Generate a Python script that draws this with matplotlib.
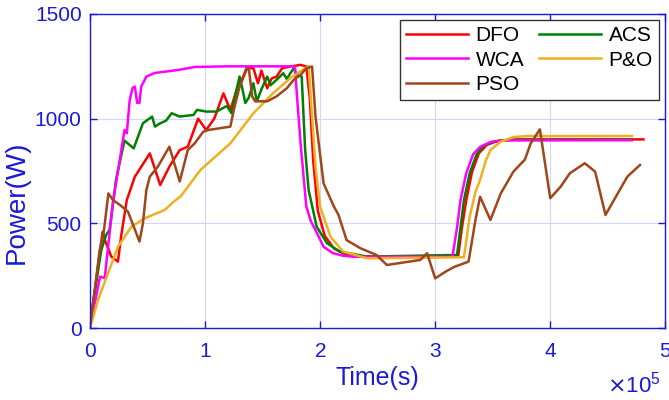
import numpy as np
import matplotlib.pyplot as plt

plt.rcParams['font.family'] = ['Liberation Sans', 'DejaVu Sans']

# time in units of 1e5 s, power in W
t_dfo = [0, 0.06, 0.11, 0.13, 0.185, 0.243, 0.27, 0.32, 0.39, 0.52, 0.61, 0.69, 0.78, 0.85,
         0.94, 1.01, 1.08, 1.16, 1.22, 1.275, 1.32, 1.36, 1.42, 1.46, 1.49, 1.54, 1.58, 1.62,
         1.67, 1.74, 1.83, 1.88, 1.91, 1.94, 1.98, 2.04, 2.12, 2.22, 2.35, 2.7, 3.2, 3.23,
         3.27, 3.32, 3.38, 3.45, 3.55, 3.7, 4.81]
p_dfo = [0, 250, 460, 420, 341, 317, 436, 611, 723, 834, 683, 771, 850, 866,
         1000, 946, 1000, 1121, 1042, 1137, 1185, 1241, 1241, 1169, 1230, 1145, 1193, 1200,
         1241, 1249, 1257, 1249, 1100, 800, 560, 440, 380, 352, 342, 342, 342, 470,
         611, 745, 835, 875, 895, 901, 901]

t_acs = [0, 0.026, 0.098, 0.14, 0.17, 0.226, 0.27, 0.30, 0.38, 0.46, 0.54, 0.565, 0.61, 0.66,
         0.71, 0.78, 0.90, 0.93, 1.01, 1.10, 1.19, 1.23, 1.26, 1.30, 1.32, 1.35, 1.38, 1.42,
         1.45, 1.49, 1.54, 1.57, 1.62, 1.68, 1.71, 1.77, 1.80, 1.84, 1.87, 1.90, 1.97, 2.06,
         2.17, 2.41, 2.70, 3.19, 3.22, 3.25, 3.30, 3.36, 3.42, 3.50, 3.65, 4.71]
p_acs = [0, 119, 372, 444, 469, 707, 820, 895, 858, 978, 1010, 962, 978, 990,
         1026, 1010, 1018, 1042, 1034, 1034, 1061, 1026, 1106, 1201, 1153, 1075, 1100, 1169,
         1083, 1140, 1201, 1160, 1185, 1217, 1190, 1241, 1209, 1201, 850, 659, 484, 405,
         365, 341, 344, 349, 480, 611, 740, 830, 870, 890, 899, 900]

t_wca = [0, 0.087, 0.128, 0.20, 0.30, 0.32, 0.345, 0.37, 0.39, 0.41, 0.43, 0.445, 0.49, 0.56,
         0.77, 0.91, 1.2, 1.5, 1.78, 1.80, 1.83, 1.88, 1.92, 1.96, 2.03, 2.11, 2.2, 2.3,
         3.15, 3.19, 3.22, 3.27, 3.33, 3.39, 3.48, 3.6, 4.71]
p_wca = [0, 245, 239, 600, 946, 930, 1089, 1147, 1153, 1075, 1075, 1153, 1201, 1218,
         1233, 1247, 1250, 1250, 1250, 1100, 884, 580, 510, 468, 388, 358, 345, 340,
         340, 480, 611, 740, 830, 865, 888, 896, 897]

t_po = [0, 0.07, 0.157, 0.243, 0.36, 0.475, 0.65, 0.72, 0.79, 0.96, 1.22, 1.42, 1.59, 1.74,
        1.90, 1.93, 1.96, 2.0, 2.09, 2.20, 2.41, 3.25, 3.30, 3.35, 3.39, 3.44, 3.48, 3.57,
        3.68, 3.8, 4.71]
p_po = [0, 134, 261, 388, 484, 524, 564, 600, 630, 755, 882, 1026, 1121, 1193,
        1252, 1010, 771, 580, 436, 365, 333, 338, 532, 650, 707, 800, 850, 890,
        912, 917, 917]

t_pso = [0, 0.084, 0.12, 0.16, 0.20, 0.26, 0.33, 0.43, 0.46, 0.49, 0.52, 0.59, 0.69, 0.78,
         0.85, 0.91, 0.985, 1.03, 1.22, 1.25, 1.30, 1.36, 1.38, 1.41, 1.435, 1.54, 1.62, 1.71,
         1.77, 1.83, 1.88, 1.93, 1.96, 2.03, 2.12, 2.16, 2.23, 2.35, 2.49, 2.58, 2.87, 2.93,
         3.0, 3.09, 3.17, 3.29, 3.35, 3.39, 3.48, 3.57, 3.68, 3.78, 3.83, 3.91, 4.0, 4.09,
         4.17, 4.30, 4.39, 4.48, 4.57, 4.67, 4.78]
p_pso = [0, 372, 460, 643, 611, 588, 556, 413, 500, 659, 723, 771, 866, 700,
         850, 882, 938, 946, 962, 1042, 1153, 1233, 1241, 1106, 1083, 1083, 1106, 1145,
         1185, 1209, 1241, 1249, 1010, 691, 580, 540, 420, 381, 349, 301, 325, 357,
         237, 269, 293, 317, 516, 627, 516, 643, 747, 805, 882, 949, 620, 675,
         739, 787, 747, 540, 627, 723, 779]

blue = '#1a1ad6'

fig = plt.figure(figsize=(6.69, 4.0), dpi=100)
ax = fig.add_axes([0.1345, 0.18, 0.86, 0.785])

lw = 1.8
l_dfo, = ax.plot(np.array(t_dfo) * 1e5, p_dfo, color='#ff0000', lw=lw, label='DFO')
l_acs, = ax.plot(np.array(t_acs) * 1e5, p_acs, color='#008000', lw=lw, label='ACS')
l_wca, = ax.plot(np.array(t_wca) * 1e5, p_wca, color='#ff00ff', lw=lw, label='WCA')
l_po, = ax.plot(np.array(t_po) * 1e5, p_po, color='#EDB120', lw=lw, label='P&O')
l_pso, = ax.plot(np.array(t_pso) * 1e5, p_pso, color='#A0461A', lw=lw, label='PSO')

ax.set_xlim(0, 5e5)
ax.set_ylim(0, 1500)
ax.set_xticks([0, 1e5, 2e5, 3e5, 4e5, 5e5])
ax.set_yticks([0, 500, 1000, 1500])
ax.ticklabel_format(axis='x', style='sci', scilimits=(5, 5), useMathText=True)
ax.xaxis.get_offset_text().set_visible(False)
ax.grid(True, color='#d4d4ff', lw=0.8)
ax.set_axisbelow(True)

for s in ax.spines.values():
    s.set_color(blue)
    s.set_linewidth(1.0)
ax.tick_params(direction='in', top=True, right=True, colors=blue, labelsize=15,
               length=5, width=1.0)
ax.tick_params(axis='x', pad=10)
ax.tick_params(axis='y', pad=6)

# multiplier below the last tick
ax.text(0.991, -0.207, r'$\times\mathregular{10^{5}}$', transform=ax.transAxes,
        ha='right', va='baseline', fontsize=16, color=blue)

ax.set_xlabel('Time(s)', fontsize=18, color=blue, labelpad=4)
ax.set_ylabel('Power(W)', fontsize=20, color=blue)
ax.yaxis.set_label_coords(-0.104, 0.4)

leg = ax.legend([l_dfo, l_wca, l_pso, l_acs, l_po], ['DFO', 'WCA', 'PSO', 'ACS', 'P&O'],
                loc='upper right', ncol=2, fontsize=15, handlelength=3.0,
                handletextpad=0.35, columnspacing=0.7, labelspacing=0.25,
                borderaxespad=0.3, fancybox=False, framealpha=1, edgecolor='#333333',
                borderpad=0.3)
leg.get_frame().set_linewidth(1.0)

fig.savefig('out.png', dpi=100)
